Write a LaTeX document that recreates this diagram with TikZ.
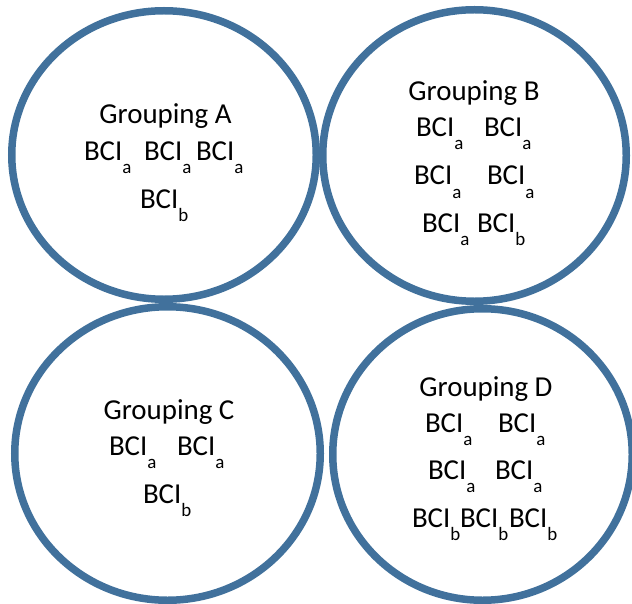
\documentclass[tikz,border=0pt]{standalone}
\usepackage{fontspec}
\setmainfont{Carlito}
\usetikzlibrary{shapes.geometric}
\definecolor{ringblue}{HTML}{41719C}
\newcommand\bciitem[1]{BCI\raisebox{-13bp}{\fontsize{19}{19}\selectfont #1}}
\begin{document}
\begin{tikzpicture}[x=1bp,y=-1bp,
  ring/.style={draw=ringblue,line width=7.5bp,ellipse,inner sep=0pt,outer sep=0pt},
  txt/.style={inner sep=0pt,outer sep=0pt,font=\fontsize{29}{35}\selectfont},
  itm/.style={txt,anchor=base west},
  ttl/.style={txt,anchor=base}]
\useasboundingbox (0,0) rectangle (632,604);
\clip (0,0) rectangle (632,604);
\node[ring,minimum width=304.5bp,minimum height=288.5bp] (A) at (164,155) {};
\node[ring,minimum width=303.5bp,minimum height=291.5bp] (B) at (474.5,155.5) {};
\node[ring,minimum width=305.5bp,minimum height=293.5bp] (C) at (167.5,453.5) {};
\node[ring,minimum width=299.5bp,minimum height=291.5bp] (D) at (482.5,454.5) {};
% Grouping A
\node[ttl] (tA) at (165.5,124) {Grouping A};
\node[itm] (a1) at (84,161) {\bciitem{a}};
\node[itm] (a2) at (144,161) {\bciitem{a}};
\node[itm] (a3) at (196,161) {\bciitem{a}};
\node[itm] (a4) at (140,208) {\bciitem{b}};
% Grouping B
\node[ttl] (tB) at (474,101) {Grouping B};
\node[itm] (b1) at (416,137) {\bciitem{a}};
\node[itm] (b2) at (484,137) {\bciitem{a}};
\node[itm] (b3) at (414,185) {\bciitem{a}};
\node[itm] (b4) at (487,185) {\bciitem{a}};
\node[itm] (b5) at (422,232) {\bciitem{a}};
\node[itm] (b6) at (477,232) {\bciitem{b}};
% Grouping C
\node[ttl] (tC) at (169,419) {Grouping C};
\node[itm] (c1) at (109,455) {\bciitem{a}};
\node[itm] (c2) at (177,455) {\bciitem{a}};
\node[itm] (c3) at (143,503) {\bciitem{b}};
% Grouping D
\node[ttl] (tD) at (486,396) {Grouping D};
\node[itm] (d1) at (425,432) {\bciitem{a}};
\node[itm] (d2) at (498,432) {\bciitem{a}};
\node[itm] (d3) at (428,479) {\bciitem{a}};
\node[itm] (d4) at (495,479) {\bciitem{a}};
\node[itm] (d5) at (412,527) {\bciitem{b}};
\node[itm] (d6) at (460,527) {\bciitem{b}};
\node[itm] (d7) at (509,527) {\bciitem{b}};
\end{tikzpicture}
\end{document}
